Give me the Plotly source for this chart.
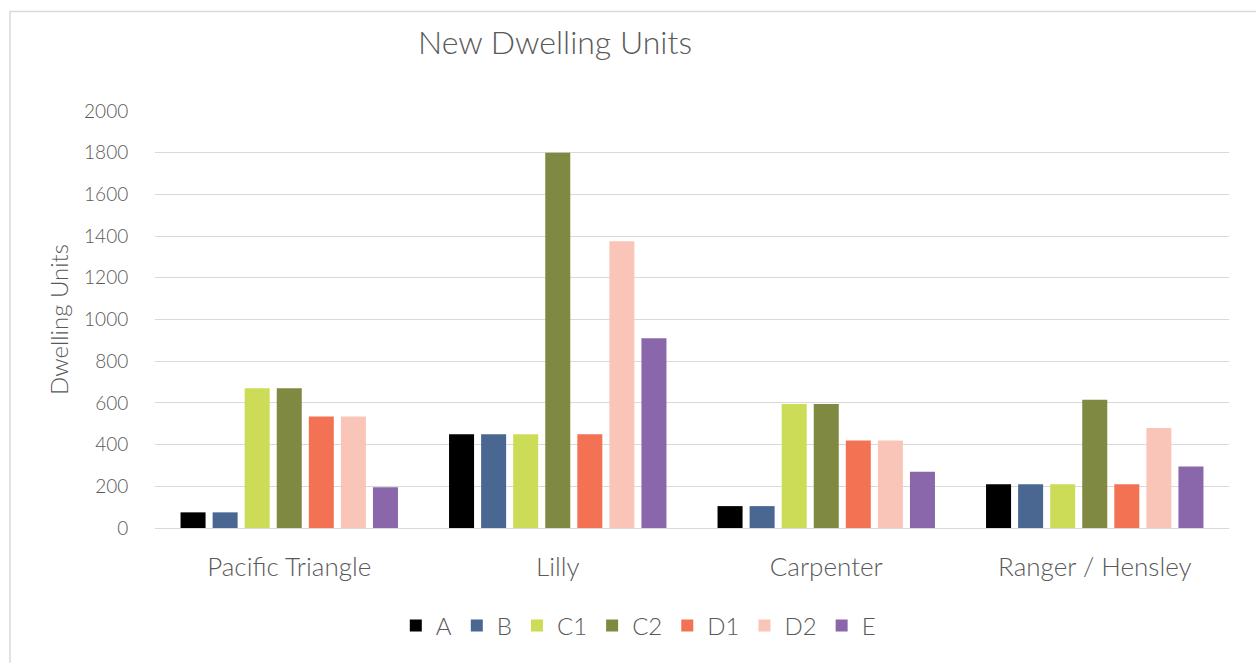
import plotly.graph_objects as go

# Dwelling unit counts per project area and scenario
areas = ["Pacific Triangle", "Lilly", "Carpenter", "Ranger / Hensley"]
scenarios = ["A", "B", "C1", "C2", "D1", "D2", "E"]
units = {
    "A":  [75, 450, 105, 210],
    "B":  [75, 450, 105, 210],
    "C1": [670, 450, 595, 210],
    "C2": [670, 1800, 595, 615],
    "D1": [535, 450, 420, 210],
    "D2": [535, 1375, 420, 480],
    "E":  [195, 910, 270, 295],
}
colors = ["#000000", "#4a6792", "#cddc57", "#808941", "#f37254", "#f9c5b9", "#8a67aa"]
y_ticks = [0, 200, 400, 600, 800, 1000, 1200, 1400, 1600, 1800, 2000]

FONT = "Lato"
GREY = "#595959"
W = 300  # light weight for all text

fig = go.Figure()
for name, col in zip(scenarios, colors):
    fig.add_trace(go.Bar(
        name=name, x=areas, y=units[name],
        marker=dict(color=col, line=dict(width=0)),
    ))

fig.update_layout(
    width=1256, height=663,
    paper_bgcolor="white", plot_bgcolor="white",
    barmode="group", bargap=0.164, bargroupgap=0.22,
    margin=dict(l=155, r=27, t=111, b=135),
    font=dict(family=FONT, color=GREY, weight=W),
    title=dict(
        text="New Dwelling Units", x=555 / 1256, xref="container", xanchor="center",
        y=1 - 43 / 663, yref="container", yanchor="middle",
        font=dict(size=32, color=GREY, family=FONT, weight=W),
    ),
    legend=dict(
        orientation="h", x=0.45, xanchor="center", y=-0.235, yanchor="middle",
        font=dict(size=24, color=GREY, weight=W), itemwidth=30, traceorder="normal",
    ),
    xaxis=dict(
        showgrid=False, showline=False, ticks="outside", ticklen=16,
        tickcolor="rgba(0,0,0,0)", tickfont=dict(size=26, color=GREY, weight=W),
    ),
    yaxis=dict(
        range=[0, 2000], tickvals=y_ticks, showgrid=True, gridcolor="#d9d9d9",
        gridwidth=1, zeroline=True, zerolinecolor="#d9d9d9", zerolinewidth=1,
        tickfont=dict(size=19, color=GREY, weight=W), ticks="outside", ticklen=22,
        tickcolor="rgba(0,0,0,0)",
        title=dict(text="Dwelling Units", font=dict(size=24, color=GREY, weight=W), standoff=8),
    ),
    shapes=[dict(
        type="rect", xref="paper", yref="paper",
        x0=-0.135, x1=1.2, y0=-0.5, y1=1 + (111 - 11.5) / 417,
        line=dict(color="#d9d9d9", width=1.5), fillcolor="rgba(0,0,0,0)", layer="below",
    )],
)

fig.write_html("out.html")
